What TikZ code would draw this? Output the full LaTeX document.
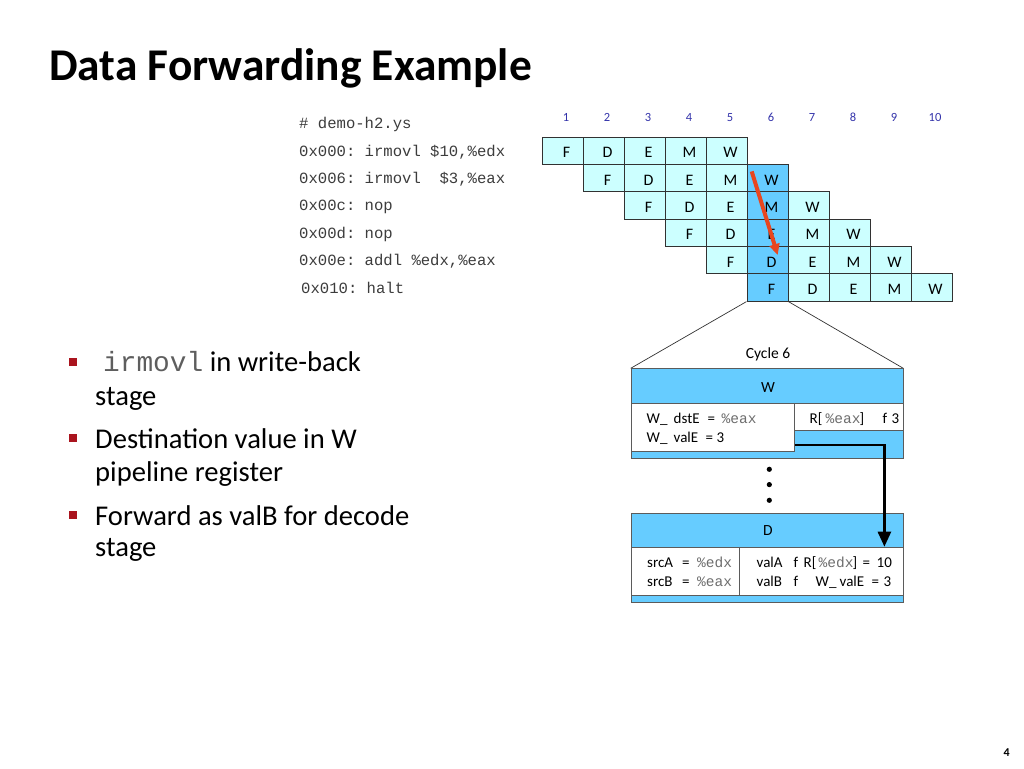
\documentclass[tikz,border=0pt]{standalone}
\usepackage{fontspec}
\setmainfont{Carlito}
\newfontfamily\codefont{Liberation Mono}
\usetikzlibrary{arrows.meta,calc}
\definecolor{cellc}{RGB}{204,255,255}
\definecolor{hic}{RGB}{102,204,255}
\definecolor{boxblue}{RGB}{102,204,255}
\definecolor{numc}{RGB}{51,51,170}
\definecolor{bulc}{RGB}{170,20,30}
\definecolor{arrred}{RGB}{232,70,30}
\definecolor{codec}{RGB}{60,60,60}
\definecolor{monogray}{RGB}{110,110,110}
\definecolor{edgec}{RGB}{50,50,50}
\newcommand{\mg}[1]{{\codefont\fontsize{14.5}{16}\selectfont\color{monogray}#1}}
\newcommand{\putat}[2]{\rlap{\hspace*{#1pt}#2}}
\frenchspacing
\begin{document}
\begin{tikzpicture}[x=1pt,y=-1pt,
  cell/.style={draw=edgec,line width=0.9pt,minimum width=41pt,minimum height=27.33pt,inner sep=0pt,anchor=north west},
  celltxt/.style={inner sep=0pt,anchor=base,font=\fontsize{16}{18}\selectfont},
  numtxt/.style={inner sep=0pt,anchor=base,text=numc,font=\fontsize{12.5}{14}\selectfont},
  codetxt/.style={inner sep=0pt,anchor=base west,text=codec,font=\codefont\fontsize{15.6}{18}\selectfont},
  bultxt/.style={inner sep=0pt,anchor=base west,font=\fontsize{28.6}{33}\selectfont},
  bulsq/.style={fill=bulc,inner sep=0pt,minimum size=8pt},
  boxouter/.style={draw=edgec!80,line width=0.8pt,fill=boxblue,inner sep=0pt,anchor=north west},
  boxwhite/.style={draw=edgec!80,line width=0.8pt,fill=white,inner sep=0pt,anchor=north west},
  boxtxt/.style={inner sep=0pt,anchor=base west,font=\fontsize{15}{17}\selectfont},
  fwd/.style={line width=2.6pt,-{Triangle[length=15pt,width=13pt]}},
  redarr/.style={arrred,line width=4pt,-{Triangle[length=11pt,width=10pt]}},
  zoomline/.style={draw=edgec,line width=0.7pt}
]
\useasboundingbox (0,0) rectangle (1024,768);

% title
\node[inner sep=0pt,anchor=base west] (title) at (49,81) {\fontsize{45.4}{50}\selectfont\bfseries Data Forwarding Example};

% code listing
\node[codetxt] (code0) at (299,128.5) {\# demo-h2.ys};
\node[codetxt] (code1) at (299,156) {0x000: irmovl \$10,\%edx};
\node[codetxt] (code2) at (299,183.4) {0x006: irmovl~~\$3,\%eax};
\node[codetxt] (code3) at (299,210.8) {0x00c: nop};
\node[codetxt] (code4) at (299,238.3) {0x00d: nop};
\node[codetxt] (code5) at (299,265.7) {0x00e: addl \%edx,\%eax};
\node[codetxt] (code6) at (301,293.2) {0x010: halt};

% cycle numbers
\foreach \n in {1,...,10} {
  \pgfmathsetmacro\nx{541.5+(\n-1)*41+24.5}
  \node[numtxt] (num\n) at (\nx,121.7) {\n};
}

% pipeline cells
\foreach \r in {0,...,5} {
  \foreach \k/\s in {0/F,1/D,2/E,3/M,4/W} {
    \pgfmathsetmacro\cx{541.5+(\r+\k)*41}
    \pgfmathsetmacro\cy{136.7+\r*27.33}
    \pgfmathtruncatemacro\col{\r+\k}
    \ifnum\col=5 \def\fc{hic}\else\def\fc{cellc}\fi
    \node[cell,fill=\fc] (c\r\k) at (\cx,\cy) {};
    \node[celltxt] (l\r\k) at ($(c\r\k.center)+(4,7)$) {\s};
  }
}

% red forwarding arrow in the grid
\draw[redarr] ($(c14.north west)+(5.2,7.4)$) -- ($(c41.north west)+(31.2,9)$);

% zoom lines
\draw[zoomline] (c50.south west) -- (630.7,368.3) coordinate (zl);
\draw[zoomline] (c50.south east) -- (903.3,368.3) coordinate (zr);

\node[inner sep=0pt,anchor=base,font=\fontsize{15.5}{17}\selectfont] (cyc) at (768,358.3) {Cycle 6};

% W box
\node[boxouter,minimum width=272.6pt,minimum height=90pt] (wbox) at (630.7,368.3) {};
\node[inner sep=0pt,anchor=base,font=\fontsize{15.5}{17}\selectfont] (wlab) at (768,392) {W};
\node[boxwhite,minimum width=163.6pt,minimum height=47.4pt] (wleft) at (630.7,403.3) {};
\node[boxwhite,minimum width=109pt,minimum height=26.7pt] (wright) at (794.3,403.3) {};
\node[boxtxt] (wt1) at (646,423.3) {\putat{0}{W\_}\putat{27}{dstE}\putat{61}{=}\putat{75}{\mg{\%eax}}};
\node[boxtxt] (wt2) at (646,442.7) {\putat{0}{W\_}\putat{27}{valE}\putat{59}{=}\putat{70}{3}};
\node[boxtxt] (wt3) at (809,423.3) {\putat{0}{R[}\putat{16}{\mg{\%eax}}\putat{50}{]}\putat{73}{f}\putat{82}{3}};

% dots
\fill (769.3,469.3) circle (2.6);
\fill (769.3,484.6) circle (2.6);
\fill (769.3,500.3) circle (2.6);

% D box
\node[boxouter,minimum width=272.6pt,minimum height=89pt] (dbox) at (630.7,512.7) {};
\node[inner sep=0pt,anchor=base,font=\fontsize{15.5}{17}\selectfont] (dlab) at (768,535) {D};
\node[boxwhite,minimum width=108.6pt,minimum height=48.3pt] (dleft) at (630.7,546.7) {};
\node[boxwhite,minimum width=164pt,minimum height=48.3pt] (dright) at (739.3,546.7) {};
\node[boxtxt] (dt1) at (646.5,567.3) {\putat{0}{srcA}\putat{35}{=}\putat{50}{\mg{\%edx}}};
\node[boxtxt] (dt2) at (646.5,586) {\putat{0}{srcB}\putat{35}{=}\putat{50}{\mg{\%eax}}};
\node[boxtxt] (dt3) at (756,567.3) {\putat{0}{valA}\putat{37}{f}\putat{47}{R[}\putat{62}{\mg{\%edx}}\putat{96}{]}\putat{106}{=}\putat{120}{10}};
\node[boxtxt] (dt4) at (756,586) {\putat{0}{valB}\putat{37}{f}\putat{59}{W\_}\putat{83}{valE}\putat{115}{=}\putat{127}{3}};

% forwarding arrow
\draw[fwd] ([yshift=6.4pt]wleft.south east) -| ([xshift=62.7pt]dright.north);

% bullets
\node[bulsq] (b1) at (73.3,361.7) {};
\node[bulsq] (b2) at (73.3,438.3) {};
\node[bulsq] (b3) at (73.3,515) {};
\node[bultxt] (t1a) at (95,371.7) {\hspace*{8pt}{\codefont\color{monogray!85!black}\fontsize{27.8}{33}\selectfont irmovl} in write-back};
\node[bultxt] (t1b) at (95,405) {stage};
\node[bultxt] (t2a) at (95,448.3) {Destination value in W};
\node[bultxt] (t2b) at (95,481.7) {pipeline register};
\node[bultxt] (t3a) at (95,525) {Forward as valB for decode};
\node[bultxt] (t3b) at (95,556.7) {stage};

% page number
\node[inner sep=0pt,anchor=base east,font=\fontsize{12}{14}\selectfont\bfseries] (pnum) at (1010,756.5) {4};
\end{tikzpicture}
\end{document}
